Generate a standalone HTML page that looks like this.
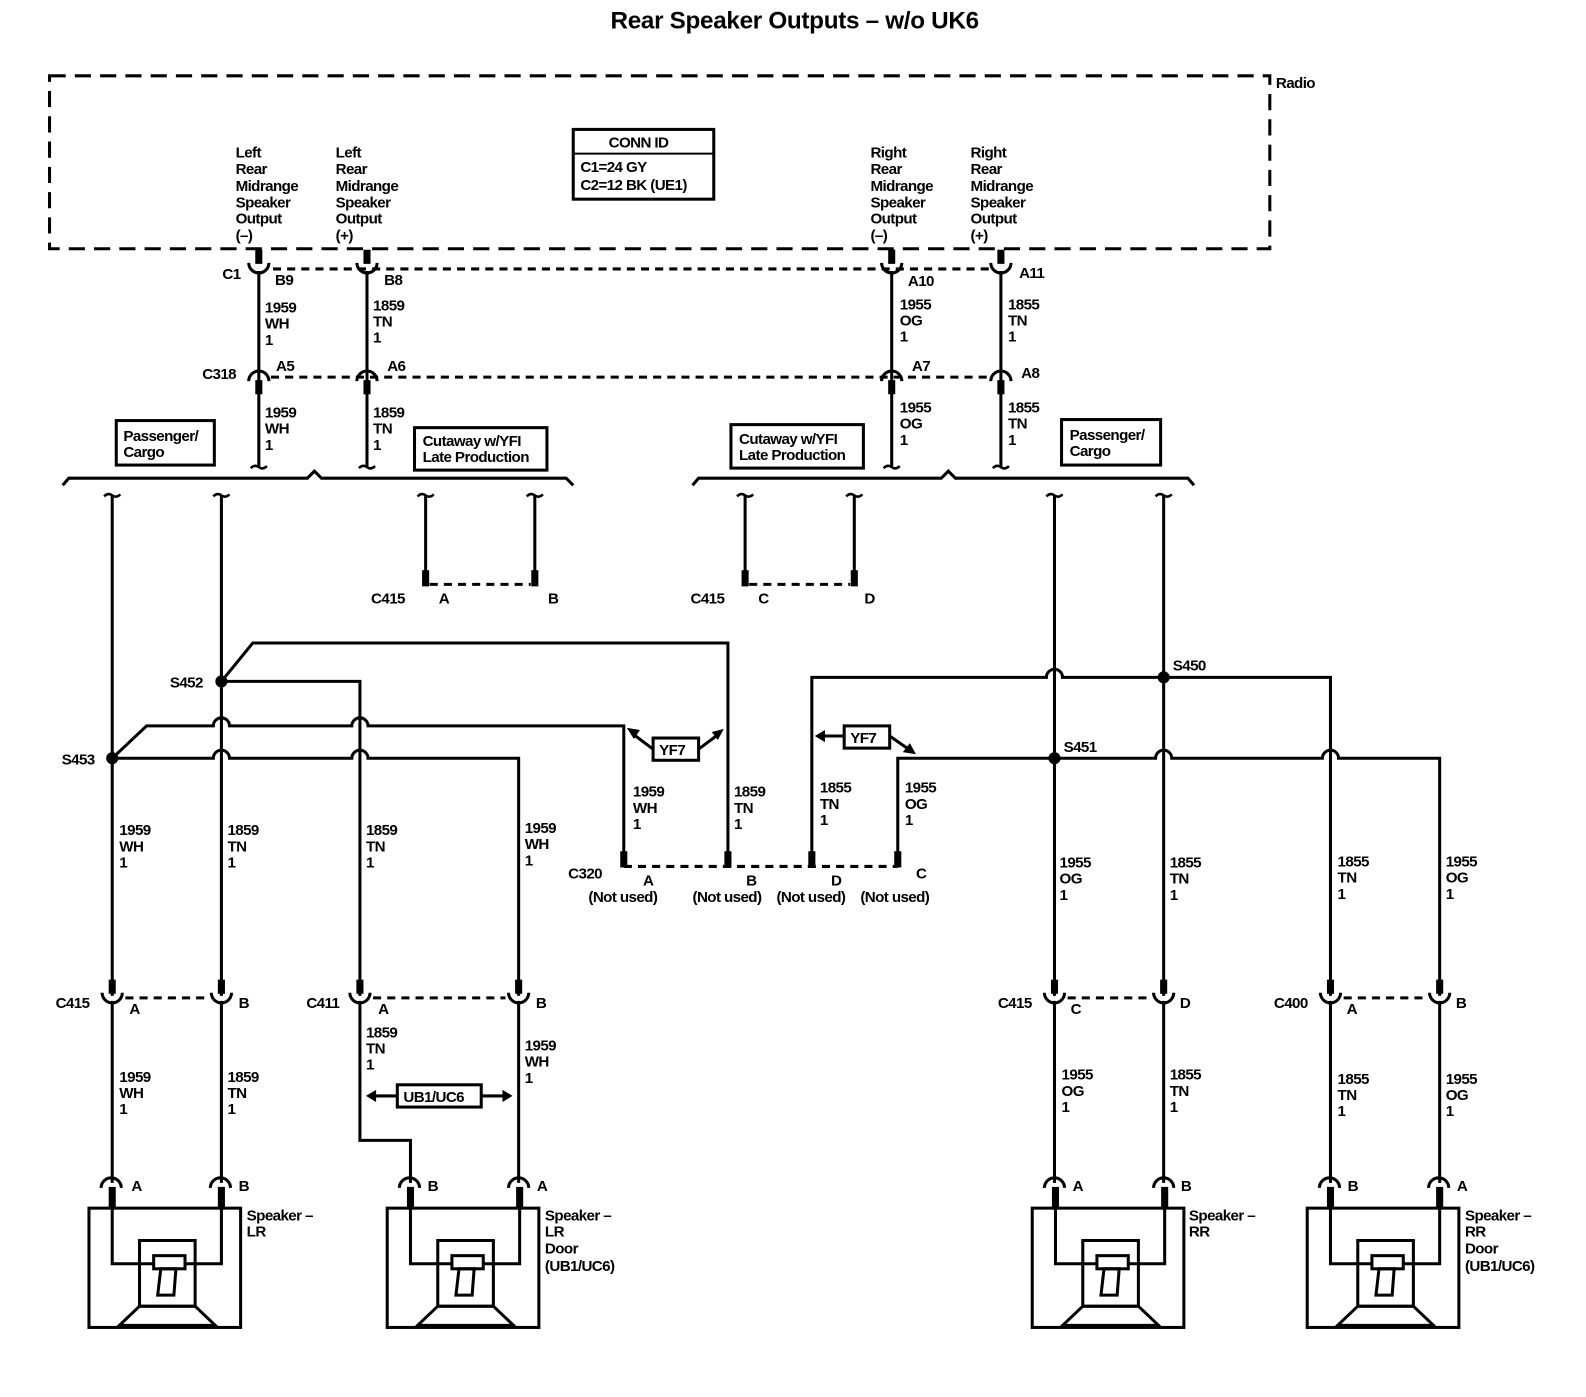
<!DOCTYPE html>
<html><head><meta charset="utf-8"><style>
html,body{margin:0;padding:0;background:#fff}
svg text{font-family:"Liberation Sans",Arial,sans-serif;font-size:15px;font-weight:bold;fill:#000;letter-spacing:-0.6px}
</style></head><body>
<svg width="1586" height="1392" viewBox="0 0 1586 1392" xmlns="http://www.w3.org/2000/svg">
<defs>
<g id="cup"><rect x="-3.5" y="-18" width="7" height="14" fill="#000"/><path d="M-10,-5 A10,10 0 0 0 10,-5" fill="none" stroke="#000" stroke-width="3"/></g>
<g id="cap"><path d="M-10,5 A10,10 0 0 1 10,5" fill="none" stroke="#000" stroke-width="3"/><rect x="-3.5" y="4" width="7" height="14" fill="#000"/></g>
<path id="tl" d="M-8,0 Q-4,-4 0,-1 Q4,2 8,-2" fill="none" stroke="#000" stroke-width="2.5"/>
<g id="spk" fill="none" stroke="#000" stroke-width="3">
<path d="M-11,5 A10,10 0 0 1 9,5"/><path d="M97,5 A10,10 0 0 1 117,5"/>
<rect x="-3.5" y="4" width="7" height="20" fill="#000" stroke="none"/>
<rect x="104.5" y="4" width="7" height="20" fill="#000" stroke="none"/>
<rect x="-23" y="25" width="150" height="118"/>
<path d="M0,20 V80 H108 V20"/>
<rect x="27" y="57" width="55" height="65"/>
<rect x="41" y="72" width="31" height="13" fill="#fff"/>
<polygon points="48,85 63,85 61,111 45,111"/>
<polygon points="27,122 82,122 102,141 7,141"/>
</g>
</defs>
<g transform="scale(1.011)">
<text x="786" y="28" text-anchor="middle" style="font-size:24px;letter-spacing:-0.3px">Rear Speaker Outputs – w/o UK6</text>

<rect x="49" y="75" width="1207" height="171" fill="none" stroke="#000" stroke-width="3" stroke-dasharray="16,9"/>
<text x="1262" y="87">Radio</text>
<rect x="567" y="128" width="139" height="69" fill="none" stroke="#000" stroke-width="3"/>
<line x1="567" y1="152" x2="706" y2="152" stroke="#000" stroke-width="2"/>
<text x="602" y="146">CONN ID</text>
<text x="574" y="170">C1=24 GY</text>
<text x="574" y="188">C2=12 BK (UE1)</text>

<g>
<text x="233" y="156">Left</text><text x="233" y="172">Rear</text><text x="233" y="189">Midrange</text><text x="233" y="205">Speaker</text><text x="233" y="221">Output</text><text x="233" y="238">(–)</text>
<text x="332" y="156">Left</text><text x="332" y="172">Rear</text><text x="332" y="189">Midrange</text><text x="332" y="205">Speaker</text><text x="332" y="221">Output</text><text x="332" y="238">(+)</text>
<text x="861" y="156">Right</text><text x="861" y="172">Rear</text><text x="861" y="189">Midrange</text><text x="861" y="205">Speaker</text><text x="861" y="221">Output</text><text x="861" y="238">(–)</text>
<text x="960" y="156">Right</text><text x="960" y="172">Rear</text><text x="960" y="189">Midrange</text><text x="960" y="205">Speaker</text><text x="960" y="221">Output</text><text x="960" y="238">(+)</text>
</g>

<g stroke="#000" stroke-width="3" fill="none">
<path d="M270,266 H978" stroke-dasharray="8,6"/>
<path d="M268,373 H978" stroke-dasharray="8,6"/>
<path d="M256,268 V462 M363,268 V462 M882,268 V462 M990,268 V462"/>
<path d="M62,480 L68,473 H304 L311,466 L318,473 H560 L567,480"/>
<path d="M685,480 L691,473 H931 L938,466 L945,473 H1175 L1181,480"/>
<path d="M111,490 V985 M219,490 V985 M421,490 V578 M529,490 V578"/>
<path d="M737,490 V578 M845,490 V578"/>
<path d="M425,578 H525 M741,578 H841" stroke-dasharray="8,6"/>
<path d="M219,674 L250,636 H720 V855"/>
<path d="M219,674 H356 V985"/>
<path d="M111,750 L145,718 H211 A8,8 0 0 1 227,718 H348 A8,8 0 0 1 364,718 H617 V855"/>
<path d="M111,750 H211 A8,8 0 0 1 227,750 H348 A8,8 0 0 1 364,750 H513 V985"/>
<path d="M803,855 V670 H1035 A8,8 0 0 1 1051,670 H1316 V985"/>
<path d="M1043,490 V985 M1151,490 V985"/>
<path d="M888,855 V750 H1143 A8,8 0 0 1 1159,750 H1308 A8,8 0 0 1 1324,750 H1424 V985"/>
<path d="M617,857 H888" stroke-dasharray="8,6"/>
<path d="M124,987 H206 M369,987 H500 M1056,987 H1138 M1329,987 H1411" stroke-dasharray="8,6"/>
<path d="M111,990 V1170 M219,990 V1170 M513,990 V1170 M1043,990 V1170 M1151,990 V1170 M1316,990 V1170 M1424,990 V1170"/>
<path d="M356,990 V1128 H406 V1170"/>
<path d="M646,741 L626,726 M691,741 L711,726"/>
<path d="M835,728 H812 M880,728 L900,742"/>
<path d="M393,1084 H368 M476,1084 H501"/>
</g>
<g fill="#000">
<circle cx="219" cy="674" r="6"/><circle cx="111" cy="750" r="6"/>
<circle cx="1151" cy="670" r="6"/><circle cx="1043" cy="750" r="6"/>
<rect x="417.5" y="564" width="7" height="16"/><rect x="525.5" y="564" width="7" height="16"/>
<rect x="733.5" y="564" width="7" height="16"/><rect x="841.5" y="564" width="7" height="16"/>
<rect x="613.5" y="842" width="7" height="16"/><rect x="716.5" y="842" width="7" height="16"/>
<rect x="799.5" y="842" width="7" height="16"/><rect x="884.5" y="842" width="7" height="16"/>
<polygon points="620,720 633,722 627,731"/><polygon points="716,721 710,732 704,724"/>
<polygon points="806,728 816,722 816,734"/><polygon points="906,746 893,744 900,735"/>
<polygon points="362,1084 372,1078 372,1090"/><polygon points="507,1084 497,1078 497,1090"/>
</g>

<use href="#cup" x="256" y="265"/><use href="#cup" x="363" y="265"/><use href="#cup" x="882" y="265"/><use href="#cup" x="990" y="265"/>
<use href="#cap" x="256" y="372"/><use href="#cap" x="363" y="372"/><use href="#cap" x="882" y="372"/><use href="#cap" x="990" y="372"/>
<use href="#cup" x="111" y="987"/><use href="#cup" x="219" y="987"/><use href="#cup" x="356" y="987"/><use href="#cup" x="513" y="987"/>
<use href="#cup" x="1043" y="987"/><use href="#cup" x="1151" y="987"/><use href="#cup" x="1316" y="987"/><use href="#cup" x="1424" y="987"/>
<use href="#tl" x="256" y="463"/><use href="#tl" x="363" y="463"/><use href="#tl" x="882" y="463"/><use href="#tl" x="990" y="463"/>
<use href="#tl" x="111" y="491"/><use href="#tl" x="219" y="491"/><use href="#tl" x="421" y="491"/><use href="#tl" x="529" y="491"/>
<use href="#tl" x="737" y="491"/><use href="#tl" x="845" y="491"/><use href="#tl" x="1043" y="491"/><use href="#tl" x="1151" y="491"/>

<use href="#spk" x="111" y="1170"/>
<use href="#spk" x="406" y="1170"/>
<use href="#spk" x="1044" y="1170"/>
<use href="#spk" x="1316" y="1170"/>

<g fill="none" stroke="#000" stroke-width="3">
<rect x="115" y="416" width="97" height="44"/>
<rect x="410" y="423" width="131" height="42"/>
<rect x="723" y="420" width="131" height="43"/>
<rect x="1050" y="415" width="98" height="45"/>
<rect x="646" y="730" width="45" height="22"/>
<rect x="835" y="718" width="45" height="22"/>
<rect x="393" y="1073" width="83" height="22"/>
</g>
<text x="122" y="436">Passenger/</text><text x="122" y="452">Cargo</text>
<text x="418" y="441">Cutaway w/YFI</text><text x="418" y="457">Late Production</text>
<text x="731" y="439">Cutaway w/YFI</text><text x="731" y="455">Late Production</text>
<text x="1058" y="435">Passenger/</text><text x="1058" y="451">Cargo</text>
<text x="652" y="747">YF7</text><text x="841" y="735">YF7</text><text x="399" y="1090">UB1/UC6</text>

<text x="220" y="276">C1</text><text x="272" y="282">B9</text><text x="380" y="282">B8</text><text x="898" y="283">A10</text><text x="1008" y="275">A11</text>
<text x="200" y="375">C318</text><text x="273" y="367">A5</text><text x="383" y="367">A6</text><text x="902" y="367">A7</text><text x="1010" y="374">A8</text>
<text x="367" y="597">C415</text><text x="434" y="597">A</text><text x="542" y="597">B</text>
<text x="683" y="597">C415</text><text x="750" y="597">C</text><text x="855" y="597">D</text>
<text x="168" y="680">S452</text><text x="61" y="756">S453</text><text x="1160" y="663">S450</text><text x="1052" y="744">S451</text>
<text x="562" y="869">C320</text><text x="636" y="876">A</text><text x="738" y="876">B</text><text x="822" y="876">D</text><text x="906" y="869">C</text>
<text x="582" y="892">(Not used)</text><text x="685" y="892">(Not used)</text><text x="768" y="892">(Not used)</text><text x="851" y="892">(Not used)</text>
<text x="55" y="997">C415</text><text x="128" y="1003">A</text><text x="236" y="997">B</text>
<text x="303" y="997">C411</text><text x="374" y="1003">A</text><text x="530" y="997">B</text>
<text x="987" y="997">C415</text><text x="1059" y="1003">C</text><text x="1167" y="997">D</text>
<text x="1260" y="997">C400</text><text x="1332" y="1003">A</text><text x="1440" y="997">B</text>
<text x="130" y="1178">A</text><text x="236" y="1178">B</text><text x="423" y="1178">B</text><text x="531" y="1178">A</text>
<text x="1061" y="1178">A</text><text x="1168" y="1178">B</text><text x="1333" y="1178">B</text><text x="1441" y="1178">A</text>
<text x="244" y="1207">Speaker –</text><text x="244" y="1223">LR</text>
<text x="539" y="1207">Speaker –</text><text x="539" y="1223">LR</text><text x="539" y="1240">Door</text><text x="539" y="1257">(UB1/UC6)</text>
<text x="1176" y="1207">Speaker –</text><text x="1176" y="1223">RR</text>
<text x="1449" y="1207">Speaker –</text><text x="1449" y="1223">RR</text><text x="1449" y="1240">Door</text><text x="1449" y="1257">(UB1/UC6)</text>

<text x="262" y="309">1959</text><text x="262" y="325">WH</text><text x="262" y="341">1</text>
<text x="369" y="307">1859</text><text x="369" y="323">TN</text><text x="369" y="339">1</text>
<text x="890" y="306">1955</text><text x="890" y="322">OG</text><text x="890" y="338">1</text>
<text x="997" y="306">1855</text><text x="997" y="322">TN</text><text x="997" y="338">1</text>
<text x="262" y="413">1959</text><text x="262" y="429">WH</text><text x="262" y="445">1</text>
<text x="369" y="413">1859</text><text x="369" y="429">TN</text><text x="369" y="445">1</text>
<text x="890" y="408">1955</text><text x="890" y="424">OG</text><text x="890" y="440">1</text>
<text x="997" y="408">1855</text><text x="997" y="424">TN</text><text x="997" y="440">1</text>
<text x="626" y="788">1959</text><text x="626" y="804">WH</text><text x="626" y="820">1</text>
<text x="726" y="788">1859</text><text x="726" y="804">TN</text><text x="726" y="820">1</text>
<text x="811" y="784">1855</text><text x="811" y="800">TN</text><text x="811" y="816">1</text>
<text x="895" y="784">1955</text><text x="895" y="800">OG</text><text x="895" y="816">1</text>
<text x="118" y="826">1959</text><text x="118" y="842">WH</text><text x="118" y="858">1</text>
<text x="225" y="826">1859</text><text x="225" y="842">TN</text><text x="225" y="858">1</text>
<text x="362" y="826">1859</text><text x="362" y="842">TN</text><text x="362" y="858">1</text>
<text x="519" y="824">1959</text><text x="519" y="840">WH</text><text x="519" y="856">1</text>
<text x="1048" y="858">1955</text><text x="1048" y="874">OG</text><text x="1048" y="890">1</text>
<text x="1157" y="858">1855</text><text x="1157" y="874">TN</text><text x="1157" y="890">1</text>
<text x="1323" y="857">1855</text><text x="1323" y="873">TN</text><text x="1323" y="889">1</text>
<text x="1430" y="857">1955</text><text x="1430" y="873">OG</text><text x="1430" y="889">1</text>
<text x="118" y="1070">1959</text><text x="118" y="1086">WH</text><text x="118" y="1102">1</text>
<text x="225" y="1070">1859</text><text x="225" y="1086">TN</text><text x="225" y="1102">1</text>
<text x="362" y="1026">1859</text><text x="362" y="1042">TN</text><text x="362" y="1058">1</text>
<text x="519" y="1039">1959</text><text x="519" y="1055">WH</text><text x="519" y="1071">1</text>
<text x="1050" y="1068">1955</text><text x="1050" y="1084">OG</text><text x="1050" y="1100">1</text>
<text x="1157" y="1068">1855</text><text x="1157" y="1084">TN</text><text x="1157" y="1100">1</text>
<text x="1323" y="1072">1855</text><text x="1323" y="1088">TN</text><text x="1323" y="1104">1</text>
<text x="1430" y="1072">1955</text><text x="1430" y="1088">OG</text><text x="1430" y="1104">1</text>
</g>
</svg>
</body></html>
